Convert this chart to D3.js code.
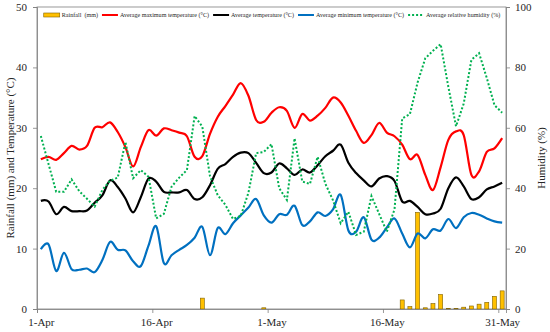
<!DOCTYPE html>
<html>
<head>
<meta charset="utf-8">
<script src="https://cdn.jsdelivr.net/npm/d3@7"></script>
<style>
body { margin: 0; background: #fff; }
text { font-family: "Liberation Serif", "Times New Roman", serif; fill: #262626; }
</style>
</head>
<body>
<svg id="chart" width="550" height="332"></svg>
<script>

var tickLabels = ["1-Apr", "16-Apr", "1-May", "16-May", "31-May"]
var tickDays = [0, 15, 30, 45, 60]
var leftTicks = [0, 10, 20, 30, 40, 50]
var rightTicks = [0, 20, 40, 60, 80, 100]

// one value per day, 1-Apr .. 31-May
var rainfall = [0, 0, 0, 0, 0, 0, 0, 0, 0, 0,
                0, 0, 0, 0, 0, 0, 0, 0, 0, 0,
                0, 1.8, 0, 0, 0, 0, 0, 0, 0, 0.2,
                0, 0, 0, 0, 0, 0, 0, 0, 0, 0,
                0, 0, 0, 0, 0, 0, 0, 1.5, 0.4, 16.0,
                0.2, 0.9, 2.4, 0.05, 0.05, 0.3, 0.5, 0.8, 1.1, 2.1,
                3.0]

var maxTemp = [24.8, 25.2, 24.7, 25.8, 27.0, 26.4, 27.0, 30.0, 30.1, 30.9,
               29.3, 26.8, 23.6, 26.8, 29.6, 28.7, 29.9, 29.6, 29.2, 28.6,
               25.2, 25.3, 29.0, 31.8, 33.6, 35.5, 37.4, 35.3, 31.3, 31.0,
               32.5, 33.4, 32.8, 30.0, 32.3, 31.2, 32.0, 33.3, 35.0, 34.2,
               32.0, 29.5, 27.5, 28.8, 30.8, 29.2, 28.6, 27.2, 24.8, 25.5,
               22.2, 19.7, 23.5, 28.0, 29.4, 28.8, 22.2, 22.8, 26.0, 26.6,
               28.3]

var avgTemp = [17.9, 17.8, 15.7, 16.9, 16.2, 16.2, 16.3, 17.6, 18.8, 21.3,
               20.2, 18.3, 16.0, 18.5, 21.6, 21.1, 19.4, 19.3, 19.3, 19.7,
               18.2, 18.5, 20.5, 23.2, 24.0, 25.2, 25.9, 25.8, 24.2, 22.5,
               22.6, 24.1, 23.3, 22.2, 23.1, 22.6, 23.8, 25.3, 26.2, 27.2,
               24.2, 22.5, 21.3, 20.3, 21.6, 22.0, 21.2, 17.8, 17.9, 16.9,
               15.7, 15.8, 16.6, 20.0, 21.8, 20.3, 18.2, 18.5, 19.8, 20.3,
               20.9]

var minTemp = [9.9, 10.7, 6.3, 9.3, 6.6, 6.5, 6.7, 6.1, 8.1, 11.1,
               9.8, 9.7, 7.9, 7.1, 10.5, 13.7, 7.6, 8.9, 9.8, 10.6,
               11.8, 13.6, 8.9, 13.4, 12.4, 14.2, 15.5, 16.8, 18.2, 15.5,
               14.3, 15.7, 15.6, 17.1, 13.9, 14.5, 16.0, 15.4, 16.5, 18.9,
               13.0, 12.8, 15.2, 11.5, 11.8, 13.5, 15.0, 12.5, 10.2, 12.5,
               11.7, 13.2, 13.0, 14.9, 13.4, 15.2, 15.9, 15.6, 15.0, 14.5,
               14.3]

var humidity = [57.3, 48.0, 38.8, 38.8, 42.9, 39.0, 36.5, 33.9, 39.4, 42.5,
                43.5, 55.3, 43.3, 46.0, 43.8, 30.0, 31.5, 40.5, 43.5, 46.0,
                63.9, 60.4, 44.0, 37.7, 34.5, 29.8, 30.8, 38.5, 51.6, 52.0,
                54.6, 40.0, 36.1, 56.5, 42.2, 41.4, 50.4, 41.5, 36.0, 28.4,
                32.2, 24.5, 25.6, 37.4, 31.5, 25.6, 33.0, 63.1, 64.5, 75.0,
                83.0, 85.5, 87.7, 73.6, 60.5, 68.0, 82.5, 84.7, 76.5, 67.5,
                65.0]

var seriesNames = ["Rainfall  (mm)", "Average maximum temperature (\u00b0C)", "Average temperature (\u00b0C)",
                   "Average minimum temperature (\u00b0C)", "Average relative humidity (%)"]


var svg = d3.select('#chart')

var pLeft = 37, pRight = 506, pTop = 7, pBottom = 309
var nDays = rainfall.length

var x = d3.scaleLinear().domain([0, nDays]).range([pLeft, pRight])
var yL = d3.scaleLinear().domain([0, 50]).range([pBottom, pTop])
var yR = d3.scaleLinear().domain([0, 100]).range([pBottom, pTop])
var dayW = x(1) - x(0)

var axisColor = "#7f7f7f"

// plot frame
svg.append("rect")
    .attr("x", pLeft)
    .attr("y", pTop)
    .attr("width", pRight - pLeft)
    .attr("height", pBottom - pTop)
    .attr("fill", "none")
    .attr("stroke", axisColor)
    .attr("stroke-width", 0.8)

// rainfall bars
svg.append("g")
    .selectAll("rect")
    .data(rainfall)
    .enter()
    .append("rect")
    .attr("x", function(d, i) { return x(i + 0.5) - dayW * 0.26 })
    .attr("y", function(d) { return yL(d) })
    .attr("width", dayW * 0.52)
    .attr("height", function(d) { return yL(0) - yL(d) })
    .attr("fill", "#ffc000")
    .attr("stroke", "#7f6000")
    .attr("stroke-width", 0.6)

var smooth = d3.line()
    .x(function(d, i) { return x(i + 0.5) })
    .y(function(d) { return yL(d) })
    .curve(d3.curveCardinal.tension(0))

var lines = [
    { data: maxTemp, color: "#ff0000" },
    { data: avgTemp, color: "#000000" },
    { data: minTemp, color: "#0070c0" }
]

lines.forEach(function(s) {
    svg.append("path")
        .datum(s.data)
        .attr("d", smooth)
        .attr("fill", "none")
        .attr("stroke", s.color)
        .attr("stroke-width", 2.2)
})

var humLine = d3.line()
    .x(function(d, i) { return x(i + 0.5) })
    .y(function(d) { return yR(d) })

svg.append("path")
    .datum(humidity)
    .attr("d", humLine)
    .attr("fill", "none")
    .attr("stroke", "#00b050")
    .attr("stroke-width", 2)
    .attr("stroke-dasharray", "2,2")

// axes
var gL = svg.append("g")
    .attr("transform", "translate(" + pLeft + ",0)")
    .call(d3.axisLeft(yL).tickValues(leftTicks).tickSize(4).tickPadding(6))

var gR = svg.append("g")
    .attr("transform", "translate(" + pRight + ",0)")
    .call(d3.axisRight(yR).tickValues(rightTicks).tickSize(4).tickPadding(5))

var gB = svg.append("g")
    .attr("transform", "translate(0," + pBottom + ")")
    .call(d3.axisBottom(x).tickValues(tickDays).tickSize(4).tickPadding(5)
            .tickFormat(function(d, i) { return tickLabels[i] }))

gB.selectAll(".tick text").attr("dx", dayW / 2)

;[gL, gR, gB].forEach(function(g) {
    g.select(".domain").attr("stroke", axisColor).attr("stroke-width", 0.8)
    g.selectAll(".tick line").attr("stroke", axisColor).attr("stroke-width", 0.8)
    g.selectAll(".tick text")
        .attr("font-family", "Liberation Serif")
        .attr("font-size", "11px")
        .attr("fill", "#262626")
})

// axis titles
svg.append("text")
    .attr("transform", "translate(10," + (pTop + pBottom) / 2 + ") rotate(-90)")
    .attr("text-anchor", "middle")
    .attr("dy", "0.35em")
    .attr("font-size", "11px")
    .text("Rainfall (mm) and Temperature (\u00b0C)")

svg.append("text")
    .attr("transform", "translate(541," + (pTop + pBottom) / 2 + ") rotate(-90)")
    .attr("text-anchor", "middle")
    .attr("dy", "0.35em")
    .attr("font-size", "11px")
    .text("Humidity (%)")

// legend, laid out in a row and centred over the plot
var legY = 15
var legCols = ["#ffc000", "#ff0000", "#000000", "#0070c0", "#00b050"]
var legend = svg.append("g")
var items = []

seriesNames.forEach(function(name, i) {
    var g = legend.append("g")
    if (i == 0) {
        g.append("rect")
            .attr("x", 0).attr("y", -2)
            .attr("width", 16).attr("height", 4)
            .attr("fill", legCols[i])
            .attr("stroke", "#7f6000")
            .attr("stroke-width", 0.6)
    } else {
        g.append("line")
            .attr("x1", 0).attr("x2", 16)
            .attr("stroke", legCols[i])
            .attr("stroke-width", 2)
            .attr("stroke-dasharray", i == 4 ? "2,2" : null)
    }
    var t = g.append("text")
        .attr("x", 18)
        .attr("dy", "0.33em")
        .attr("font-size", "6.1px")
        .style("white-space", "pre")
        .text(name)
    items.push({ g: g, w: 18 + t.node().getComputedTextLength() })
})

var gap = 4
var totalW = d3.sum(items, function(d) { return d.w }) + gap * (items.length - 1)
var lx = 272 - totalW / 2
items.forEach(function(it) {
    it.g.attr("transform", "translate(" + lx + "," + legY + ")")
    lx += it.w + gap
})

</script>
</body>
</html>
